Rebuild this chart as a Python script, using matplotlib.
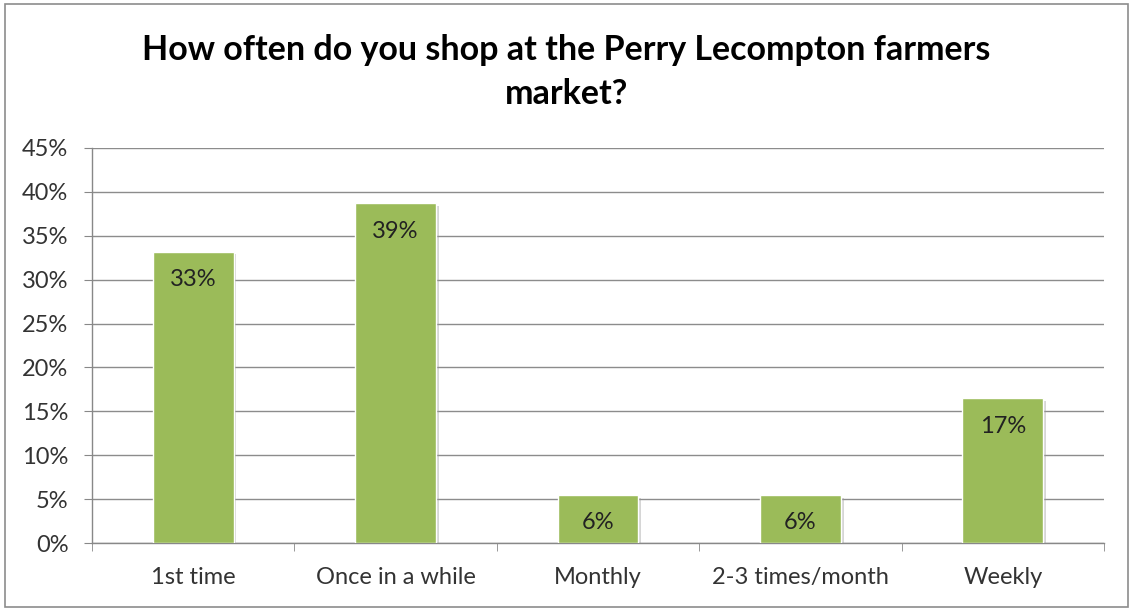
import matplotlib.pyplot as plt
import matplotlib.patheffects as pe
import numpy as np
from matplotlib.patches import Rectangle

categories = ['1st time', 'Once in a while', 'Monthly', '2-3 times/month', 'Weekly']
values = [33.2, 38.7, 5.5, 5.5, 16.5]
labels = ['33%', '39%', '6%', '6%', '17%']
yticks = [0, 5, 10, 15, 20, 25, 30, 35, 40, 45]

plt.rcParams['font.family'] = ['Lato', 'DejaVu Sans']

fig = plt.figure(figsize=(11.33, 6.11), dpi=100)
# outer chart border
fig.patches.append(Rectangle((0.004, 0.006), 0.992, 0.988, transform=fig.transFigure,
                             fill=False, edgecolor='#8c8c8c', linewidth=1.2))
ax = fig.add_axes([92 / 1133, 1 - 543 / 611, (1104 - 92) / 1133, (543 - 148) / 611])

x = np.arange(len(categories))
bars = ax.bar(x, values, width=0.4, color='#9BBB59', edgecolor='white', linewidth=1,
              zorder=3)
for b in bars:
    b.set_path_effects([pe.SimplePatchShadow(offset=(2, -2), shadow_rgbFace='#999999', alpha=0.4),
                        pe.Normal()])

for xi, v, lab in zip(x, values, labels):
    ax.annotate(lab, (xi, v), xytext=(0, -28), textcoords='offset pixels',
                ha='center', va='center', fontsize=17, color='#222222', zorder=4)

ax.set_xlim(-0.5, len(categories) - 0.5)
ax.set_ylim(0, 45)
ax.set_yticks(yticks)
ax.set_yticklabels([f'{t}%' for t in yticks], fontsize=17, color='#333333')
ax.set_xticks(x)
ax.set_xticklabels(categories, fontsize=17, color='#333333')
ax.tick_params(axis='x', length=0, pad=17)
ax.set_xticks(np.arange(-0.5, len(categories)), minor=True)
ax.tick_params(axis='x', which='minor', length=6, color='#888888', direction='out')
ax.tick_params(axis='y', length=6, color='#888888', direction='out', pad=11)

ax.grid(axis='y', color='#8c8c8c', linewidth=1, zorder=0)
ax.set_axisbelow(True)
for s in ['top', 'right']:
    ax.spines[s].set_visible(False)
for s in ['left', 'bottom']:
    ax.spines[s].set_color('#888888')
    ax.spines[s].set_linewidth(1)

fig.text(0.5, 1 - 72 / 611, 'How often do you shop at the Perry Lecompton farmers\nmarket?',
         ha='center', va='center', fontsize=24.5, fontweight='bold', linespacing=1.45, color='black')

fig.savefig('out.png', dpi=100)
